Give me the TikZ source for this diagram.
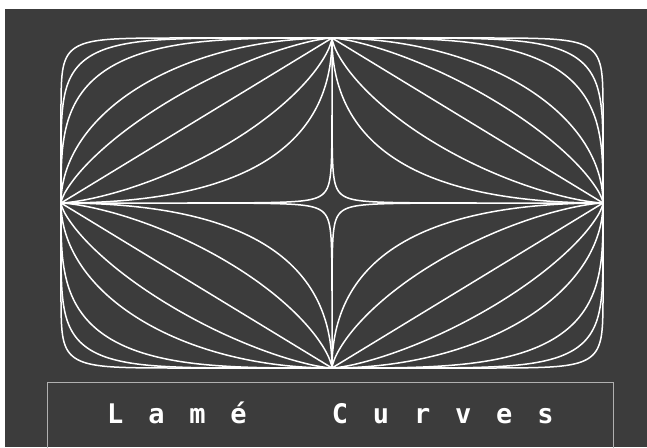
\documentclass[tikz,border=0pt]{standalone}
\usepackage{fontspec}
\newfontfamily\pixfont[LetterSpace=92]{DejaVu Sans Mono Bold}
\definecolor{bg}{HTML}{3C3C3C}
\definecolor{framecol}{HTML}{B0B0B0}
\begin{document}
\begin{tikzpicture}[x=1pt,y=-1pt,
  curve/.style={white, line width=1.5pt, line join=round},
  frame/.style={draw=framecol, line width=0.9pt}]
\useasboundingbox (0,0) rectangle (647,447);
\fill[white] (0,0) rectangle (647,447);
\fill[bg] (5,9) rectangle (647,447);
\coordinate (O) at (332,203);
\foreach \n in {12,6,3.5,2,1.4,1,0.7,0.5,0.22}{
  \draw[curve, shift={(O)}] plot[domain=0:360, samples=361, variable=\t]
    ({271*sign(cos(\t))*pow(max(abs(cos(\t)),0.00001),2/\n)},
     {165*sign(sin(\t))*pow(max(abs(sin(\t)),0.00001),2/\n)}) -- cycle;
}
\draw[frame] (47,452) |- (613,382) -- (613,452);
\node[text=white, font=\pixfont\fontsize{27}{27}\selectfont, anchor=base west, inner sep=0pt] (title) at (107,423) {Lamé \kern44pt Curves};
\end{tikzpicture}
\end{document}
